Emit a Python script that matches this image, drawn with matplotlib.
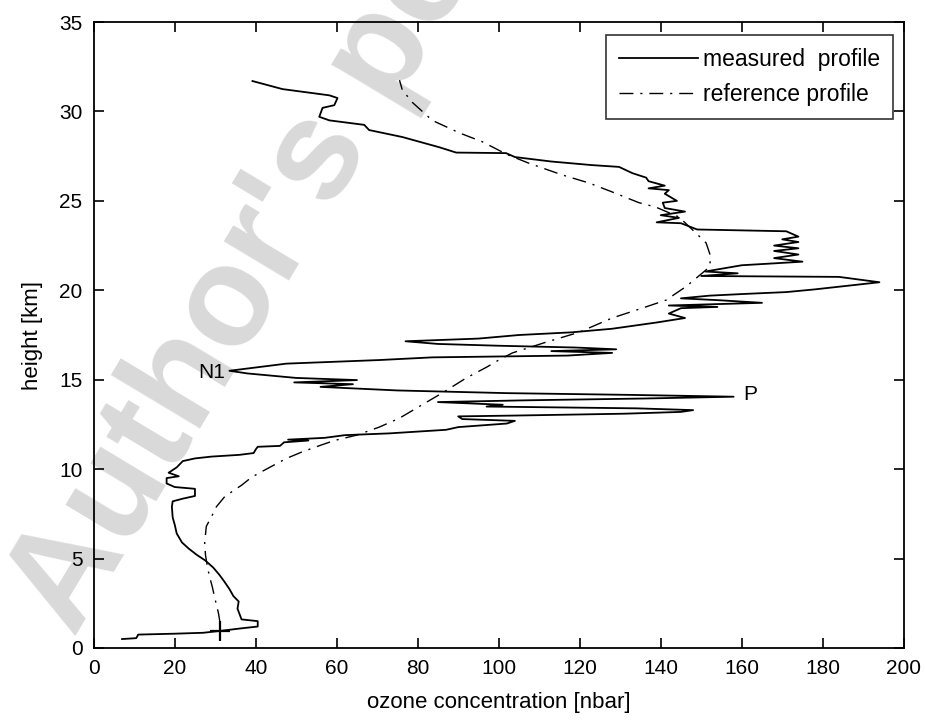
import matplotlib
matplotlib.use("Agg")
import matplotlib.pyplot as plt

# measured ozone sonde profile (ozone [nbar], height [km])
meas_x = [7, 10.5, 11, 20, 27, 31, 36.5, 40.5, 40.5, 36.5, 35.5, 35.8, 34.5, 33.5, 32.3, 31, 29.5, 27.5,
          25.5, 23.5, 21.8, 20.5, 20, 19.5, 19.3, 19.5, 22, 25, 25, 20, 18, 18, 21, 18.5, 20.5, 22, 25,
          29, 36, 39.5, 40, 40.5, 46, 47, 53, 48, 57, 62, 73, 87, 90, 102, 104, 91, 90, 105, 131, 145,
          148, 134, 97, 101, 85, 107, 136, 158, 133, 102, 75, 56, 64, 49.5, 65, 50, 38, 33.5, 47.6,
          70.5, 83.6, 100, 117, 128, 113, 129, 119, 100, 85, 77, 95, 105, 118, 128, 139, 146, 142,
          145, 154, 142, 165, 154, 145, 152, 161, 171, 178, 194, 184, 150, 159, 151, 160, 175, 168,
          174, 168, 174, 168, 174, 170, 174, 171, 149, 145, 139, 144.5, 140, 146, 141, 140.5, 144,
          141, 142, 137, 141, 137, 136.4, 133, 129.7, 123, 113, 104, 101.8, 89.5, 85.3, 76.2, 68,
          66.8, 58.2, 55.7, 56.5, 59.4, 60.2, 58.2, 46.6, 39.2]
meas_h = [0.5, 0.55, 0.75, 0.8, 0.85, 0.95, 1.1, 1.2, 1.5, 1.6, 2.2, 2.6, 2.9, 3.3, 3.7, 4.1, 4.5, 4.9,
          5.2, 5.55, 5.9, 6.4, 6.9, 7.3, 7.9, 8.2, 8.35, 8.5, 8.9, 9.0, 9.2, 9.5, 9.6, 9.8, 10.1, 10.45,
          10.6, 10.7, 10.8, 10.9, 11.1, 11.25, 11.3, 11.5, 11.6, 11.65, 11.75, 11.9, 12.0, 12.2, 12.35,
          12.55, 12.7, 12.8, 12.95, 13.0, 13.1, 13.2, 13.3, 13.4, 13.5, 13.6, 13.75, 13.85, 13.95,
          14.05, 14.15, 14.25, 14.4, 14.6, 14.75, 14.85, 14.98, 15.1, 15.35, 15.5, 15.9, 16.1, 16.25,
          16.3, 16.35, 16.5, 16.6, 16.7, 16.8, 16.9, 17.0, 17.15, 17.3, 17.5, 17.65, 17.85, 18.2,
          18.45, 18.7, 19.0, 19.07, 19.15, 19.3, 19.45, 19.55, 19.7, 19.8, 19.9, 20.05, 20.45, 20.75,
          20.8, 20.95, 21.05, 21.4, 21.6, 21.8, 22.0, 22.2, 22.35, 22.5, 22.7, 22.85, 23.0, 23.3,
          23.4, 23.75, 23.8, 24.05, 24.2, 24.4, 24.6, 24.9, 25.0, 25.4, 25.6, 25.7, 25.85, 26.1, 26.3,
          26.55, 26.9, 27.0, 27.2, 27.45, 27.67, 27.7, 28.0, 28.57, 28.96, 29.25, 29.5, 29.7, 30.2,
          30.35, 30.75, 30.9, 31.25, 31.7]

# reference profile
ref_x = [31.2, 30.8, 30.0, 29.3, 28.6, 28.1, 27.6, 27.4, 27.8, 29.1, 30.3, 32.3, 34.5, 36.5, 39, 41.4,
         45.1, 47.6, 51.3, 56.2, 59.4, 64.9, 70.5, 75.5, 81.1, 86, 92, 97, 100, 103.4, 111.7, 119.8,
         128, 135.4, 141.3, 146.2, 150.2, 152, 152.4, 151.2, 148.7, 144.5, 138.8, 134.6, 128, 122.3,
         115.7, 107.5, 102, 96, 90.3, 83.6, 78.7, 76.2, 75.5]
ref_h = [1.4, 1.95, 2.7, 3.4, 4.0, 4.5, 5.2, 5.9, 6.8, 7.35, 7.9, 8.45, 8.8, 9.1, 9.55, 9.85, 10.3,
         10.6, 10.95, 11.35, 11.6, 11.9, 12.35, 12.85, 13.6, 14.25, 15.1, 15.7, 16.1, 16.5, 17.1,
         17.65, 18.45, 19.0, 19.45, 20.2, 20.95, 21.3, 21.85, 22.65, 23.2, 24.1, 24.65, 24.9, 25.5,
         26.0, 26.45, 27.1, 27.6, 28.3, 28.8, 29.5, 30.5, 31.2, 31.75]

ground_x, ground_h = 31.3, 0.95

plt.rcParams['font.family'] = ['Liberation Sans', 'DejaVu Sans']

fig = plt.figure(figsize=(9.25, 7.22), dpi=100)
ax = fig.add_axes([0.1013, 0.1025, 0.8757, 0.867])
ax.set_facecolor('none')

# watermark behind the plot
fig.text(0.08, 0.115, "Author's personal copy", rotation=59, rotation_mode='anchor',
         ha='left', va='baseline', fontsize=102, fontweight='bold', color='#d9d9d9',
         zorder=-5)

ax.plot(meas_x, meas_h, color='black', lw=1.3, label='measured  profile')
ax.plot(ref_x, ref_h, color='black', lw=1.0, linestyle=(0, (10, 5, 1.5, 5)), label='reference profile')
ax.plot([ground_x], [ground_h], marker='+', color='black', ms=14, mew=1.6)

ax.text(32.4, 15.4, 'N1', ha='right', va='center', fontsize=15)
ax.text(160.5, 14.17, 'P', ha='left', va='center', fontsize=15)

ax.set_xlim(0, 200)
ax.set_ylim(0, 35)
ax.set_xticks(range(0, 201, 20))
ax.set_yticks(range(0, 36, 5))
ax.tick_params(direction='in', length=7, width=1.2, top=True, right=True, labelsize=15, pad=8)
for s in ax.spines.values():
    s.set_linewidth(1.3)

ax.set_xlabel('ozone concentration [nbar]', fontsize=16, labelpad=10)
ax.set_ylabel('height [km]', fontsize=16, labelpad=12)

leg = ax.legend(loc='upper right', fontsize=16.5, handlelength=3.45, frameon=True, fancybox=False,
                edgecolor='black', borderpad=0.55, labelspacing=0.55, handletextpad=0.25,
                borderaxespad=0, bbox_to_anchor=(0.987, 0.979))
leg.get_frame().set_linewidth(1.2)

fig.savefig('out.png', dpi=100)
